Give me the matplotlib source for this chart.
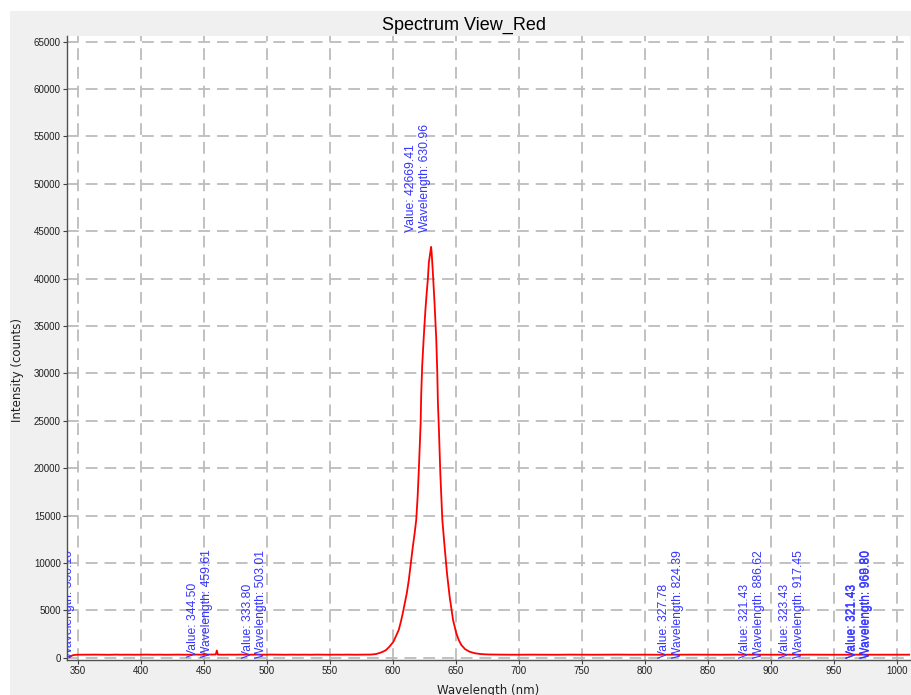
#!/usr/bin/env python
#==============================================================================#
#                       Spectrum View_Red (red LED spectrum)
#==============================================================================#
import numpy as np
import matplotlib.pyplot as plt
from matplotlib.patches import Rectangle

plt.rcParams['lines.scale_dashes'] = False
#==============================================================================#
#                           Data
#==============================================================================#
wavelength = [343.6, 344.5, 346.0, 348.0, 350.1, 355, 360, 365, 370, 375,
              380, 385, 390, 395, 400, 405, 410, 415, 420, 425,
              430, 435, 440, 445, 450, 455, 459.6, 460.4, 461.2, 465,
              470, 475, 480, 485, 490, 495, 500, 503.0, 510, 515,
              520, 525, 530, 535, 540, 545, 550, 555, 560, 565,
              570, 575, 580, 583, 586.8, 590.0, 592.5, 594.7, 597.5, 600.6,
              602.8, 604.8, 606.5, 608.0, 609.5, 611.2, 612.8, 614.1, 616.0, 617.4,
              618.7, 619.8, 620.7, 621.5, 622.2, 622.6, 623.4, 624.7, 626.0, 627.0,
              627.9, 628.7, 629.7, 630.5, 630.96, 631.9, 633.2, 634.6, 635.4, 635.9,
              636.7, 637.2, 637.8, 638.6, 639.4, 640.3, 641.2, 643.1, 645.2, 647.9,
              650.5, 652.5, 654.5, 657.5, 661.1, 665.0, 669.0, 673.0, 677.0, 685,
              690, 700, 710, 720, 730, 740, 750, 760, 770, 780,
              790, 800, 810, 820, 824.4, 830, 840, 850, 860, 870,
              880, 886.6, 890, 900, 910, 917.5, 920, 930, 940, 950,
              960, 969.8, 980, 990, 1000, 1010]
intensity = [60, 150, 260, 300, 318.52, 322, 315, 328, 320, 312,
             330, 318, 325, 316, 322, 331, 319, 326, 314, 323,
             329, 317, 324, 331, 320, 327, 344.50, 760, 330, 318,
             326, 321, 333, 317, 325, 329, 319, 333.80, 322, 316,
             328, 320, 325, 318, 330, 323, 317, 326, 321, 329,
             318, 324, 330, 336, 390, 520, 650, 810, 1180, 1690,
             2350, 2930, 3800, 4690, 5700, 6810, 8200, 9620, 11730, 13100,
             14550, 17000, 19660, 22300, 24780, 27590, 30760, 33930, 36750, 38500,
             39920, 41690, 42600, 43350, 42669.41, 40630, 37460, 33580, 30060, 26890,
             24070, 21950, 19490, 17000, 14550, 13100, 11730, 8920, 6450, 3990,
             2580, 1850, 1340, 900, 630, 480, 400, 360, 340, 328,
             322, 318, 326, 320, 315, 327, 321, 317, 324, 330,
             319, 325, 316, 322, 327.78, 318, 326, 320, 315, 324,
             318, 321.43, 327, 319, 325, 323.43, 317, 326, 320, 316,
             324, 321.43, 318, 325, 320, 322]

# peak-finder markers: wavelength, value
mark_wl = [350.10, 459.61, 503.01, 630.96, 824.39, 886.62, 917.45, 969.80, 968.80]
mark_val = [318.52, 344.50, 333.80, 42669.41, 327.78, 321.43, 323.43, 321.43, 321.43]

xticks = np.arange(350, 1001, 50)
yticks = np.arange(0, 65001, 5000)
#==============================================================================#
#                               Figure
#==============================================================================#
W, H = 911, 695
fig = plt.figure(figsize=(W / 100, H / 100), dpi=100, facecolor='white')
fig.patches.append(Rectangle((10 / W, 0), 1, (H - 11) / H, transform=fig.transFigure,
                             facecolor='#f0f0f0', edgecolor='none', zorder=-10))

ax = fig.add_axes([67 / W, 35 / H, 843 / W, 624 / H])
ax.set_facecolor('white')

ax.plot(wavelength, intensity, color='#ff0000', lw=1.3, zorder=3)

ax.set_xlim(341.5, 1010.6)
ax.set_ylim(-240, 65600)
ax.set_xticks(xticks)
ax.set_yticks(yticks)
ax.set_xticklabels([str(v) for v in xticks], fontsize=7, family='Liberation Sans', color='#202020')
ax.set_yticklabels([str(v) for v in yticks], fontsize=7, family='Liberation Sans', color='#202020')
ax.tick_params(direction='out', length=3, width=0.8, color='#404040', pad=1.5)

ax.grid(True, color='#bcbcbc', lw=1.3, linestyle=(0, (8.5, 5)))
ax.set_axisbelow(True)
for s in ['top', 'right']:
    ax.spines[s].set_visible(False)
for s in ['left', 'bottom']:
    ax.spines[s].set_color('#505050')
    ax.spines[s].set_linewidth(1.0)

ax.set_xlabel('Wavelength (nm)', fontsize=8.5, family='DejaVu Sans', color='#202020')
ax.xaxis.set_label_coords(0.5, -0.038)
ax.set_ylabel('Intensity (counts)', fontsize=8.5, family='DejaVu Sans', color='#202020')
ax.yaxis.set_label_coords(-0.051, 0.465)

fig.text(463.7 / W, 1 - 25 / H, 'Spectrum View_Red', fontsize=13, family='Liberation Sans',
         ha='center', va='center', color='black')

# marker labels sit on a slightly stretched grid, as in the original screen
for w, v in zip(mark_wl, mark_val):
    dx = max(-16, 0.045 * (w - 930))
    dy = 0.00058 * (v - 320) - 3
    ax.annotate('Value: %.2f\nWavelength: %.2f' % (v, w), xy=(w, v),
                xytext=(dx, dy), textcoords='offset pixels',
                rotation=90, ha='center', va='bottom', multialignment='left',
                color='#3535ff', fontsize=8.7, family='Liberation Sans',
                clip_on=True, zorder=4)

fig.savefig('out.png', dpi=100, facecolor=fig.get_facecolor())
